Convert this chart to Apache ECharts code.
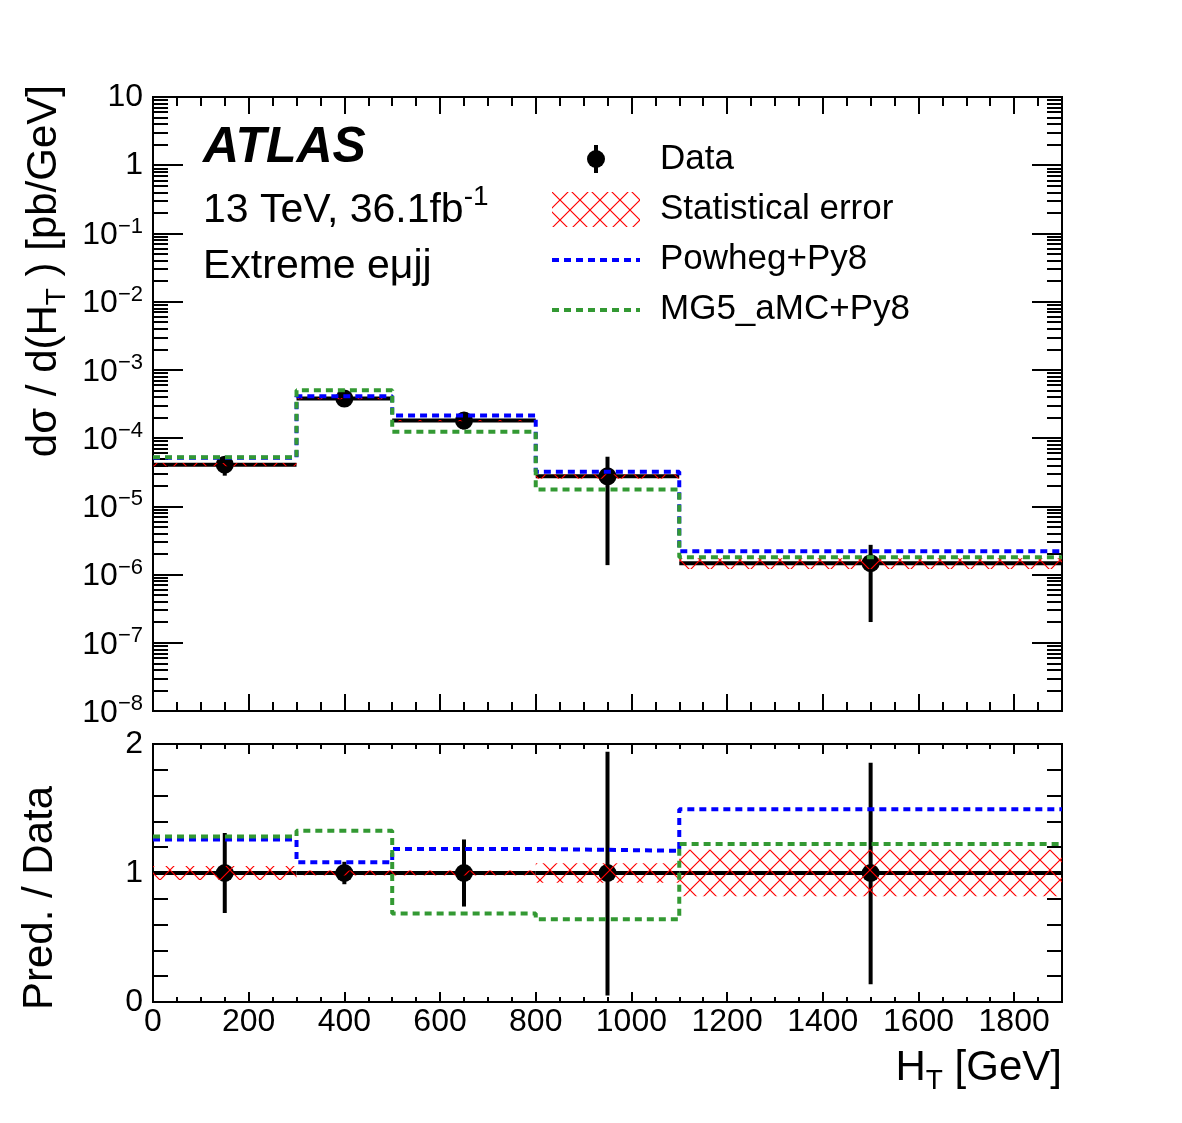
<!DOCTYPE html>
<html>
<head>
<meta charset="utf-8">
<script src="https://cdn.jsdelivr.net/npm/echarts@6/dist/echarts.min.js"></script>
<style>
html, body { margin: 0; padding: 0; background: #fff; }
#main { width: 1182px; height: 1123px; }
</style>
</head>
<body>
<div id="main"></div>
<script>
// bins in HT [GeV]
var binLo = [0, 300, 500, 800, 1100];
var binHi = [300, 500, 800, 1100, 1900];
var binEdges = [0, 300, 500, 800, 1100, 1900];
// measured cross section dsigma/dHT [pb/GeV]
var dataXsec = [4.08e-5, 3.8e-4, 1.81e-4, 2.75e-5, 1.47e-6];
// relative data uncertainties
var dataErrUp = [0.31, 0.087, 0.26, 0.94, 0.855];
var dataErrDn = [0.31, 0.087, 0.26, 0.95, 0.863];
// relative statistical error (hatched band)
var statErr = [0.055, 0.02, 0.02, 0.075, 0.18];
// prediction / data
var powhegRatio = [1.26, 1.084, 1.187, 1.172, 1.495];
var mg5Ratio = [1.283, 1.327, 0.686, 0.641, 1.224];

var xTicks = [0, 200, 400, 600, 800, 1000, 1200, 1400, 1600, 1800];
var yTopTicks = [1e-8, 1e-7, 1e-6, 1e-5, 1e-4, 1e-3, 1e-2, 1e-1, 1, 10];
var yRatioTicks = [0, 1, 2];

var FONT = 'Liberation Sans, Arial, Helvetica, sans-serif';
var BLUE = '#0000ff';
var GREEN = '#339933';

// minor ticks (not data)
var xMinor = [];
for (var x = 50; x < 1900; x += 50) { if (x % 200 !== 0) xMinor.push(x); }
var yTopMinor = [];
for (var e = -8; e < 1; e++) {
  for (var m = 2; m <= 9; m++) yTopMinor.push(m * Math.pow(10, e));
}
var yRatioMinor = [0.2, 0.4, 0.6, 0.8, 1.2, 1.4, 1.6, 1.8];

// red cross hatch
var hatch = document.createElement('canvas');
hatch.width = 20; hatch.height = 20;
var hctx = hatch.getContext('2d');
hctx.strokeStyle = '#ff0000';
hctx.lineWidth = 1.2;
hctx.beginPath();
hctx.moveTo(0, 0); hctx.lineTo(20, 20);
hctx.moveTo(20, 0); hctx.lineTo(0, 20);
hctx.stroke();
var hatchFill = { image: hatch, repeat: 'repeat' };

// tables built from the arrays above
var topData = [], ratioData = [], topBand = [], ratioBand = [];
for (var i = 0; i < binLo.length; i++) {
  var v = dataXsec[i];
  topData.push([binLo[i], binHi[i], v, v * (1 + dataErrUp[i]), v * (1 - dataErrDn[i])]);
  ratioData.push([binLo[i], binHi[i], 1, 1 + dataErrUp[i], 1 - dataErrDn[i]]);
  topBand.push([binLo[i], binHi[i], v * (1 - statErr[i]), v * (1 + statErr[i])]);
  ratioBand.push([binLo[i], binHi[i], 1 - statErr[i], 1 + statErr[i]]);
}
function stepLine(vals) {
  var out = [];
  for (var i = 0; i < vals.length; i++) out.push([binEdges[i], vals[i]]);
  out.push([binEdges[vals.length], vals[vals.length - 1]]);
  return out;
}
var powhegTop = [], mg5Top = [];
for (var j = 0; j < dataXsec.length; j++) {
  powhegTop.push(dataXsec[j] * powhegRatio[j]);
  mg5Top.push(dataXsec[j] * mg5Ratio[j]);
}

function renderData(params, api) {
  var lo = api.value(0), hi = api.value(1), c = (lo + hi) / 2;
  var pL = api.coord([lo, api.value(2)]);
  var pR = api.coord([hi, api.value(2)]);
  var pC = api.coord([c, api.value(2)]);
  var pU = api.coord([c, api.value(3)]);
  var pD = api.coord([c, api.value(4)]);
  return {
    type: 'group',
    children: [
      { type: 'line', shape: { x1: pL[0], y1: pL[1], x2: pR[0], y2: pR[1] },
        style: { stroke: '#000', lineWidth: 4 } },
      { type: 'line', shape: { x1: pU[0], y1: pU[1], x2: pD[0], y2: pD[1] },
        style: { stroke: '#000', lineWidth: 4 } },
      { type: 'circle', shape: { cx: pC[0], cy: pC[1], r: 9 }, style: { fill: '#000' } }
    ]
  };
}
function renderBand(params, api) {
  var a = api.coord([api.value(0), api.value(3)]);
  var b = api.coord([api.value(1), api.value(2)]);
  return {
    type: 'rect',
    shape: { x: a[0], y: a[1], width: b[0] - a[0], height: b[1] - a[1] },
    style: { fill: hatchFill, stroke: null }
  };
}

function xAx(grid, pos, vals, len, labels) {
  var ax = {
    type: 'value', gridIndex: grid, position: pos, min: 0, max: 1900, interval: 200,
    axisLine: { show: false, onZero: false }, splitLine: { show: false },
    axisTick: { show: true, inside: true, length: len, customValues: vals,
      lineStyle: { color: '#000', width: 2 } },
    axisLabel: { show: false }
  };
  if (labels) {
    ax.axisLabel = { show: true, customValues: xTicks, color: '#000', fontSize: 32,
      fontFamily: FONT, margin: 4, formatter: function (v) { return String(v); } };
  }
  return ax;
}
function logLabel(v) {
  var ex = Math.round(Math.log(v) / Math.LN10);
  if (ex === 1) return '10';
  if (ex === 0) return '1';
  return '{b|10}{s|\u2212' + (-ex) + '}';
}
function yTop(pos, vals, len, labels) {
  return {
    type: 'log', logBase: 10, gridIndex: 0, position: pos, min: 1e-8, max: 10,
    axisLine: { show: false, onZero: false }, splitLine: { show: false },
    axisTick: { show: true, inside: true, length: len, customValues: vals,
      lineStyle: { color: '#000', width: 2 } },
    axisLabel: labels ? {
      show: true, customValues: yTopTicks, formatter: logLabel, color: '#000',
      fontSize: 32, fontFamily: FONT, margin: 10,
      rich: {
        b: { fontSize: 32, fontFamily: FONT, color: '#000', lineHeight: 36, verticalAlign: 'bottom' },
        s: { fontSize: 22, fontFamily: FONT, color: '#000', lineHeight: 22, verticalAlign: 'top' }
      }
    } : { show: false }
  };
}
function yRatio(pos, vals, len, labels) {
  return {
    type: 'value', gridIndex: 1, position: pos, min: 0, max: 2, interval: 1,
    axisLine: { show: false, onZero: false }, splitLine: { show: false },
    axisTick: { show: true, inside: true, length: len, customValues: vals,
      lineStyle: { color: '#000', width: 2 } },
    axisLabel: labels ? { show: true, customValues: yRatioTicks, color: '#000',
      fontSize: 32, fontFamily: FONT, margin: 10 } : { show: false }
  };
}

var chart = echarts.init(document.getElementById('main'));
chart.setOption({
  animation: false,
  backgroundColor: '#fff',
  grid: [
    { left: 153, top: 97, width: 909, height: 614, show: true, borderColor: '#000', borderWidth: 2 },
    { left: 153, top: 744, width: 909, height: 258, show: true, borderColor: '#000', borderWidth: 2 }
  ],
  xAxis: [
    xAx(0, 'bottom', xTicks, 17, false),
    xAx(0, 'bottom', xMinor, 9, false),
    xAx(0, 'top', xTicks, 17, false),
    xAx(0, 'top', xMinor, 9, false),
    xAx(1, 'bottom', xTicks, 10, true),
    xAx(1, 'bottom', xMinor, 5, false),
    xAx(1, 'top', xTicks, 10, false),
    xAx(1, 'top', xMinor, 5, false)
  ],
  yAxis: [
    yTop('left', yTopTicks, 30, true),
    yTop('left', yTopMinor, 15, false),
    yTop('right', yTopTicks, 30, false),
    yTop('right', yTopMinor, 15, false),
    yRatio('left', yRatioTicks, 30, true),
    yRatio('left', yRatioMinor, 15, false),
    yRatio('right', yRatioTicks, 30, false),
    yRatio('right', yRatioMinor, 15, false)
  ],
  series: [
    { type: 'custom', name: 'Data', xAxisIndex: 0, yAxisIndex: 0, z: 2,
      renderItem: renderData, encode: { x: [0, 1], y: [2, 3, 4] }, data: topData },
    { type: 'custom', name: 'Statistical error', xAxisIndex: 0, yAxisIndex: 0, z: 3,
      renderItem: renderBand, encode: { x: [0, 1], y: [2, 3] }, data: topBand },
    { type: 'line', name: 'Powheg+Py8', xAxisIndex: 0, yAxisIndex: 0, z: 4, step: 'end',
      symbol: 'none', data: stepLine(powhegTop),
      lineStyle: { color: BLUE, width: 4, type: [7, 5] } },
    { type: 'line', name: 'MG5_aMC+Py8', xAxisIndex: 0, yAxisIndex: 0, z: 5, step: 'end',
      symbol: 'none', data: stepLine(mg5Top),
      lineStyle: { color: GREEN, width: 4, type: [7, 5] } },

    { type: 'custom', xAxisIndex: 4, yAxisIndex: 4, z: 2,
      renderItem: renderData, encode: { x: [0, 1], y: [2, 3, 4] }, data: ratioData },
    { type: 'custom', xAxisIndex: 4, yAxisIndex: 4, z: 3,
      renderItem: renderBand, encode: { x: [0, 1], y: [2, 3] }, data: ratioBand },
    { type: 'line', xAxisIndex: 4, yAxisIndex: 4, z: 4, step: 'end',
      symbol: 'none', data: stepLine(powhegRatio),
      lineStyle: { color: BLUE, width: 4, type: [7, 5] } },
    { type: 'line', xAxisIndex: 4, yAxisIndex: 4, z: 5, step: 'end',
      symbol: 'none', data: stepLine(mg5Ratio),
      lineStyle: { color: GREEN, width: 4, type: [7, 5] } }
  ],
  graphic: [
    { type: 'text', x: 203, y: 148, style: { text: 'ATLAS', fontSize: 50, fontWeight: 'bold',
      fontStyle: 'italic', fontFamily: FONT, fill: '#000', verticalAlign: 'middle', align: 'left' } },
    { type: 'text', x: 203, y: 207, style: { text: '{a|13 TeV, 36.1fb}{s|-1}', verticalAlign: 'middle', align: 'left',
      rich: {
        a: { fontSize: 41, fontFamily: FONT, fill: '#000', lineHeight: 48, verticalAlign: 'bottom' },
        s: { fontSize: 28, fontFamily: FONT, fill: '#000', lineHeight: 26, verticalAlign: 'top' }
      } } },
    { type: 'text', x: 203, y: 267, style: { text: 'Extreme e\u03bcjj', fontSize: 41, fontFamily: FONT,
      fill: '#000', verticalAlign: 'middle', align: 'left' } },

    // legend
    { type: 'line', shape: { x1: 596, y1: 145, x2: 596, y2: 173 }, style: { stroke: '#000', lineWidth: 4 } },
    { type: 'circle', shape: { cx: 596, cy: 159, r: 9 }, style: { fill: '#000' } },
    { type: 'rect', shape: { x: 552, y: 192, width: 88, height: 35 }, style: { fill: hatchFill } },
    { type: 'line', shape: { x1: 552, y1: 260, x2: 640, y2: 260 },
      style: { stroke: BLUE, lineWidth: 4, lineDash: [7, 5] } },
    { type: 'line', shape: { x1: 552, y1: 310, x2: 640, y2: 310 },
      style: { stroke: GREEN, lineWidth: 4, lineDash: [7, 5] } },
    { type: 'text', x: 660, y: 159, style: { text: 'Data', fontSize: 35, fontFamily: FONT, fill: '#000', verticalAlign: 'middle' } },
    { type: 'text', x: 660, y: 209, style: { text: 'Statistical error', fontSize: 35, fontFamily: FONT, fill: '#000', verticalAlign: 'middle' } },
    { type: 'text', x: 660, y: 259, style: { text: 'Powheg+Py8', fontSize: 35, fontFamily: FONT, fill: '#000', verticalAlign: 'middle' } },
    { type: 'text', x: 660, y: 309, style: { text: 'MG5_aMC+Py8', fontSize: 35, fontFamily: FONT, fill: '#000', verticalAlign: 'middle' } },

    // axis titles
    { type: 'text', x: 47, y: 85, rotation: Math.PI / 2, style: {
      text: '{a|d\u03c3 / d(H}{s|T}{a| ) [pb/GeV]}', align: 'right', verticalAlign: 'middle',
      rich: {
        a: { fontSize: 42, fontFamily: FONT, fill: '#000', lineHeight: 48, verticalAlign: 'top' },
        s: { fontSize: 28, fontFamily: FONT, fill: '#000', lineHeight: 20, verticalAlign: 'bottom' }
      } } },
    { type: 'text', x: 40, y: 898, rotation: Math.PI / 2, style: {
      text: 'Pred. / Data', fontSize: 42, fontFamily: FONT, fill: '#000', align: 'center', verticalAlign: 'middle' } },
    { type: 'text', x: 1062, y: 1071, style: {
      text: '{a|H}{s|T}{a| [GeV]}', align: 'right', verticalAlign: 'middle',
      rich: {
        a: { fontSize: 42, fontFamily: FONT, fill: '#000', lineHeight: 48, verticalAlign: 'top' },
        s: { fontSize: 28, fontFamily: FONT, fill: '#000', lineHeight: 20, verticalAlign: 'bottom' }
      } } }
  ]
});
</script>
</body>
</html>
